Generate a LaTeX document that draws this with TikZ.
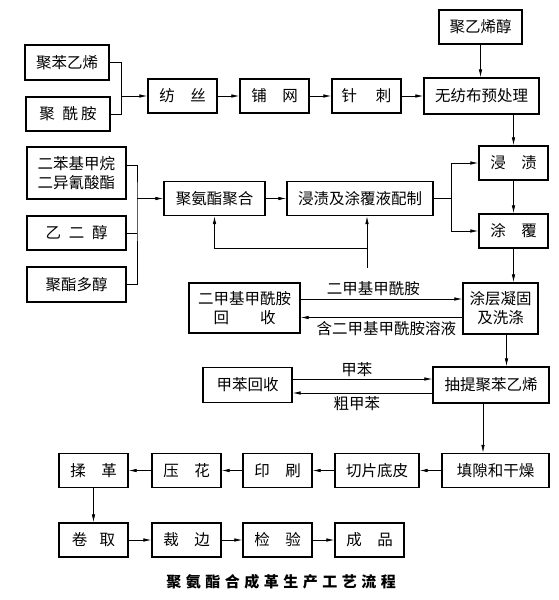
\documentclass[tikz,border=0pt]{standalone}
\usepackage{fontspec}
\newfontfamily\cjk{Noto Sans CJK SC}
\newfontfamily\cjkcap[LetterSpace=30]{Noto Sans CJK SC}
\usetikzlibrary{arrows.meta}
\begin{document}
\begin{tikzpicture}[x=1pt,y=-1pt,
  box/.style={draw, line width=1.3pt, inner sep=0pt, minimum width=69pt, minimum height=34pt, align=center, font=\cjk\fontsize{15.5}{19}\selectfont},
  flow/.style={line width=0.7pt, -{Latex[length=8pt,width=3.5pt]}},
  link/.style={line width=0.7pt},
  lbl/.style={font=\cjk\fontsize{15.5}{17}\selectfont, inner sep=1pt}]
\useasboundingbox (0,0) rectangle (559,600);
% top row
\node[box, minimum width=84pt, minimum height=35pt] (ps) at (67,62.5) {聚苯乙烯};
\node[box, minimum width=84pt] (pa) at (68,114) {聚\hspace{0.5em}酰\hspace{0.2em}胺};
\node[box] (fs) at (182.5,96) {纺\hspace{1em}丝};
\node[box] (pw) at (274.5,96) {铺\hspace{1em}网};
\node[box] (zc) at (366.5,96) {针\hspace{1.2em}刺};
\node[box, minimum width=115pt, minimum height=36pt] (yc) at (481.5,96) {无纺布预处理};
\node[box, minimum width=83pt] (pva) at (480.5,27) {聚乙烯醇};
% polyurethane
\node[box, minimum width=99pt, minimum height=52pt] (mdi) at (76.5,173) {二苯基甲烷\\二异氰酸酯};
\node[box, minimum width=99pt] (eg) at (76.5,233) {乙\hspace{0.5em}二\hspace{0.5em}醇};
\node[box, minimum width=99pt, minimum height=35pt] (pol) at (76.5,284.5) {聚酯多醇};
\node[box, minimum width=101pt] (pu) at (214.5,198.5) {聚氨酯聚合};
\node[box, minimum width=146pt] (jt) at (360,198.5) {浸渍及涂覆液配制};
\node[box] (jz) at (513.5,163) {浸\hspace{1em}渍};
\node[box] (tf) at (513.5,231) {涂\hspace{1em}覆};
% coagulation and extraction
\node[box, minimum width=75pt, minimum height=51pt] (tc) at (500.5,308.5) {涂层凝固\\及洗涤};
\node[box, minimum width=111pt, minimum height=50pt] (dr) at (244.5,308) {二甲基甲酰胺\\回\hspace{2em}收};
\node[box, minimum width=116pt, minimum height=36pt] (cp) at (491,385) {抽提聚苯乙烯};
\node[box, minimum width=89pt, minimum height=35pt] (tr) at (247.5,385) {甲苯回收};
% bottom rows
\node[box, minimum width=107pt] (tg) at (495.5,470.5) {填隙和干燥};
\node[box, minimum width=84pt] (qp) at (377,470.5) {切片底皮};
\node[box] (ys) at (277.5,470.5) {印\hspace{1em}刷};
\node[box] (yh) at (186.5,470.5) {压\hspace{1em}花};
\node[box] (rg) at (93.5,470.5) {揉\hspace{1em}革};
\node[box] (jq) at (93.5,540) {卷\hspace{0.8em}取};
\node[box] (cb) at (186.5,540) {裁\hspace{1em}边};
\node[box] (jy) at (277.5,540) {检\hspace{1em}验};
\node[box] (cpn) at (369.5,540) {成\hspace{1em}品};
\node[font=\cjkcap\bfseries\fontsize{15}{18}\selectfont] (cap) at (281,582) {聚氨酯合成革生产工艺流程};
% junctions
\coordinate (j1) at (121,96);
\coordinate (j2) at (137,198.5);
\coordinate (j3) at (451,198.5);
\coordinate (fb) at (367,268);
\coordinate (fb2) at (367,248);
% connectors
\draw[link] (ps.east) -| (j1);
\draw[link] (pa.east) -| (j1);
\draw[flow] (j1) -- (fs);
\draw[flow] (fs) -- (pw);
\draw[flow] (pw) -- (zc);
\draw[flow] (zc) -- (yc);
\draw[flow] (pva.south) -- (pva.south |- yc.north);
\draw[flow] (yc.south -| jz.north) -- (jz.north);
\draw[link] ([yshift=8pt]mdi.east) -| (j2) |- (pol.east);
\draw[link] (eg.east) -- (eg.east -| j2);
\draw[flow] (j2) -- (pu);
\draw[flow] (pu) -- (jt);
\draw[link] (jt.east) -- (j3);
\draw[flow] (j3) |- (jz.west);
\draw[flow] (j3) |- (tf.west);
\draw[flow] (fb) -- (fb |- jt.south);
\draw[flow] (fb2) -| (pu.south);
\draw[flow] (jz) -- (tf);
\draw[flow] (tf.south) -- (tf.south |- tc.north);
\draw[flow] ([yshift=9pt]dr.east) -- ([yshift=9pt]dr.east -| tc.west)
  node[lbl, pos=0.45, above=2pt] {二甲基甲酰胺};
\draw[flow] ([yshift=-9pt]tc.west) -- ([yshift=-9pt]tc.west -| dr.east)
  node[lbl, pos=0.47, below=3pt] {含二甲基甲酰胺溶液};
\draw[flow] ([xshift=6pt]tc.south) -- ([xshift=6pt]tc.south |- cp.north);
\draw[flow] ([yshift=6pt]tr.east) -- ([yshift=6pt]tr.east -| cp.west)
  node[lbl, pos=0.46, above=1pt] {甲苯};
\draw[flow] ([yshift=-8pt]cp.west) -- ([yshift=-8pt]cp.west -| tr.east)
  node[lbl, pos=0.54, below=2pt] {粗甲苯};
\draw[flow] ([xshift=-8pt]cp.south) -- ([xshift=-8pt]cp.south |- tg.north);
\draw[flow] (tg) -- (qp);
\draw[flow] (qp) -- (ys);
\draw[flow] (ys) -- (yh);
\draw[flow] (yh) -- (rg);
\draw[flow] (rg) -- (jq);
\draw[flow] (jq) -- (cb);
\draw[flow] (cb) -- (jy);
\draw[flow] (jy) -- (cpn);
\end{tikzpicture}
\end{document}
